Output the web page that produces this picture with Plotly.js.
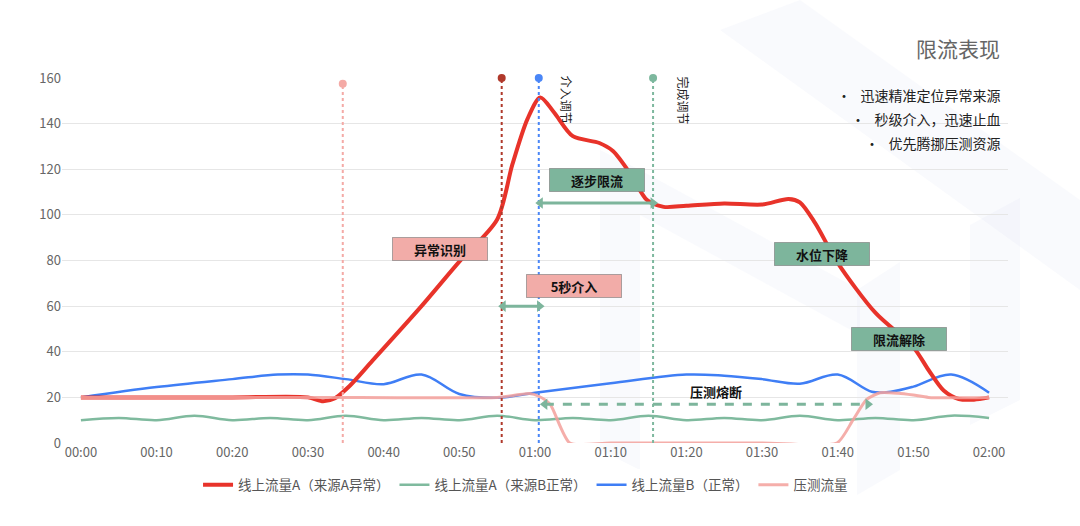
<!DOCTYPE html>
<html>
<head>
<meta charset="utf-8">
<script src="https://cdn.plot.ly/plotly-3.0.1.min.js"></script>
<style>
  html, body { margin: 0; padding: 0; background: #fff; }
  #chart { width: 1080px; height: 526px; }
</style>
</head>
<body>
<div id="chart"></div>
<script>
// time axis in minutes from 00:00
const tick_vals = [0, 10, 20, 30, 40, 50, 60, 70, 80, 90, 100, 110, 120]
const tick_labels = ['00:00', '00:10', '00:20', '00:30', '00:40', '00:50', '01:00',
                     '01:10', '01:20', '01:30', '01:40', '01:50', '02:00']

// 线上流量A（来源A异常）
const red_x = [0, 10, 20, 30, 32, 33.5, 35.5, 38.5, 45, 50, 55, 57, 59, 60.7, 62.5, 65, 68.5, 70.3,
               72.6, 74.8, 77, 80, 85, 90, 93.5, 95, 97, 100, 105, 110, 112, 114, 116, 118, 120]
const red_y = [20, 20, 20, 20, 18.3, 19.5, 25, 36, 60, 79.5, 98, 122, 142, 151.5, 145, 134.5, 131.5, 128,
               118, 106.5, 103.5, 104, 105, 104.5, 107, 105.5, 96.5, 79, 57, 42, 32, 23, 19.3, 19, 20]

// 线上流量A（来源B正常）
const green_x = [0, 5, 10, 15, 20, 25, 30, 35, 40, 45, 50, 55, 60, 65, 70, 75, 80, 85, 90, 95, 100, 105, 110, 115, 120]
const green_y = [10, 11, 10, 12, 10, 11, 10, 12, 10, 11, 10, 12, 10, 11, 10, 12, 10, 11, 10, 12, 10, 11, 10, 12, 11]

// 线上流量B（正常）
const blue_x = [0, 10, 20, 26, 30, 35, 40, 45, 50, 55, 60, 70, 80, 85, 90, 95, 100, 104.5, 107, 110, 115, 120]
const blue_y = [20, 24.5, 28, 30, 30, 28, 25.8, 30, 21.5, 19.8, 22, 26.2, 30, 29.5, 28, 26, 30, 22.5, 22.5, 24.7, 30, 22]

// 压测流量
const pink_x = [0, 30, 55, 57.5, 59.3, 60.5, 62, 64.6, 70, 90, 99.9, 102, 103.8, 105.6, 108, 110, 112, 120]
const pink_y = [20, 20, 20, 21, 21.7, 20.5, 17, 0, 0, 0, 0, 10, 19, 22, 21.8, 21, 20, 20]

// event markers
const event_names = ['出现上涨', '超过阈值', '介入调节', '完成调节']
const event_x = [34.6, 55.6, 60.5, 75.6]
const event_top = [157.5, 160, 160, 160]
const event_colors = ['#f4aaa6', '#b0392b', '#4a86f7', '#7db89e']

// phase boxes
const box_texts = ['异常识别', '5秒介入', '逐步限流', '水位下降', '限流解除']
const box_x = [47.4, 65.2, 68.2, 97.9, 108.1]
const box_y = [85, 68.8, 115.3, 82.9, 45.6]
const box_colors = ['#f2aca8', '#f2aca8', '#7db59c', '#7db59c', '#7db59c']

// double arrows: [start, end, level]
const arrow_from = [60.7, 55.8, 61.3]
const arrow_to = [75.6, 60.6, 104]
const arrow_level = [105.2, 60, 17]
const arrow_dash = ['solid', 'solid', 'dash']

const bullets = ['迅速精准定位异常来源', '秒级介入，迅速止血', '优先腾挪压测资源']

const font_cn = 'Noto Sans CJK SC, Noto Sans, sans-serif'

var data = []

data.push({x: green_x, y: green_y, name: '线上流量A（来源B正常）', type: 'scatter', mode: 'lines',
           line: {color: '#7fba9e', width: 2.5, shape: 'spline', smoothing: 1}, legendrank: 2})
data.push({x: blue_x, y: blue_y, name: '线上流量B（正常）', type: 'scatter', mode: 'lines',
           line: {color: '#3f7ef5', width: 2.5, shape: 'spline', smoothing: 1}, legendrank: 3})
data.push({x: red_x, y: red_y, name: '线上流量A（来源A异常）', type: 'scatter', mode: 'lines',
           line: {color: '#e8332a', width: 4, shape: 'spline', smoothing: 0.8}, legendrank: 1})
data.push({x: pink_x, y: pink_y, name: '压测流量', type: 'scatter', mode: 'lines',
           line: {color: 'rgba(243,160,155,0.85)', width: 3, shape: 'spline', smoothing: 0.6}, legendrank: 4})

// vertical event lines + top markers
for (let i = 0; i < event_x.length; i++) {
  data.push({
    x: [event_x[i], event_x[i]], y: [0, event_top[i]],
    type: 'scatter', mode: 'lines', showlegend: false, hoverinfo: 'skip',
    line: {color: event_colors[i], width: 2, dash: 'dot'}
  })
}
data.push({
  x: event_x, y: event_top, type: 'scatter', mode: 'markers', showlegend: false,
  cliponaxis: false, marker: {color: event_colors, size: 8}
})

// arrows
for (let i = 0; i < arrow_from.length; i++) {
  data.push({
    x: [arrow_from[i], arrow_to[i]], y: [arrow_level[i], arrow_level[i]],
    type: 'scatter', mode: 'lines+markers', showlegend: false, hoverinfo: 'skip',
    line: {color: '#7db59c', width: 3, dash: arrow_dash[i]},
    marker: {symbol: ['triangle-left', 'triangle-right'], size: 10, color: '#7db59c'}
  })
}

var annotations = []

// event labels
annotations.push({x: event_x[0], y: 166.6, text: event_names[0], showarrow: false,
                  font: {size: 12, color: '#222'}})
annotations.push({x: event_x[1], y: 169.7, text: event_names[1], showarrow: false,
                  font: {size: 12, color: '#222'}})
annotations.push({x: 64.1, y: 150.5, text: event_names[2], showarrow: false, textangle: 90,
                  font: {size: 12, color: '#222'}})
annotations.push({x: 79.6, y: 150, text: event_names[3], showarrow: false, textangle: 90,
                  font: {size: 12, color: '#222'}})

for (let i = 0; i < box_texts.length; i++) {
  annotations.push({
    x: box_x[i], y: box_y[i], text: '<b>' + box_texts[i] + '</b>', showarrow: false,
    bgcolor: box_colors[i], bordercolor: 'rgba(120,120,120,0.6)', borderwidth: 1,
    width: 92, height: 20, font: {size: 13, color: '#111'}
  })
}
annotations.push({x: 83.9, y: 22.6, text: '<b>压测熔断</b>', showarrow: false,
                  font: {size: 13, color: '#111'}})

// title block on the right
annotations.push({xref: 'paper', yref: 'paper', x: 0.994, y: 1.082, xanchor: 'right', yanchor: 'middle',
                  text: '限流表现', showarrow: false, font: {size: 21, color: '#666'}})
for (let i = 0; i < bullets.length; i++) {
  annotations.push({xref: 'paper', yref: 'paper', x: 0.994, y: 0.953 - i * 0.0655,
                    xanchor: 'right', yanchor: 'middle',
                    text: '•   ' + bullets[i], showarrow: false, font: {size: 14, color: '#222'}})
}

// faint background decoration (pixel -> paper)
function pp(px, py) { return ((px - 62) / 946).toFixed(4) + ',' + ((443 - py) / 365).toFixed(4) }
function poly(pts) { return 'M' + pts.map(p => pp(p[0], p[1])).join(' L') + ' Z' }
var deco = [
  [[720, 30], [800, 0], [1080, 200], [1080, 290]],
  [[600, 150], [640, 170], [640, 470], [600, 450]],
  [[640, 170], [860, 290], [860, 335], [640, 215]],
  [[857, 290], [900, 262], [900, 470], [857, 495]],
  [[970, 225], [1020, 198], [1020, 400], [970, 425]]
]
var shapes = deco.map(d => ({
  type: 'path', xref: 'paper', yref: 'paper', path: poly(d), layer: 'below',
  fillcolor: 'rgba(215,225,243,0.16)', line: {width: 0}
}))

var layout = {
  width: 1080, height: 526,
  margin: {l: 62, r: 72, t: 78, b: 83},
  paper_bgcolor: '#fff', plot_bgcolor: 'rgba(0,0,0,0)',
  font: {family: font_cn, size: 13, color: '#666'},
  showlegend: true,
  legend: {orientation: 'h', x: 0.49, xanchor: 'center', y: -0.115, yanchor: 'middle',
           font: {size: 13.5, color: '#555'}, itemwidth: 30},
  xaxis: {range: [-2.5, 122.5], tickvals: tick_vals, ticktext: tick_labels,
          showgrid: false, zeroline: false, showline: false, ticks: '',
          tickfont: {size: 13, color: '#666'}},
  yaxis: {range: [0, 160], dtick: 20, gridcolor: '#e6e6e6', gridwidth: 1,
          zeroline: false, showline: false, ticks: '', tickfont: {size: 13, color: '#666'}},
  annotations: annotations,
  shapes: shapes
}

Plotly.newPlot('chart', data, layout, {displayModeBar: false, staticPlot: true})
</script>
</body>
</html>
